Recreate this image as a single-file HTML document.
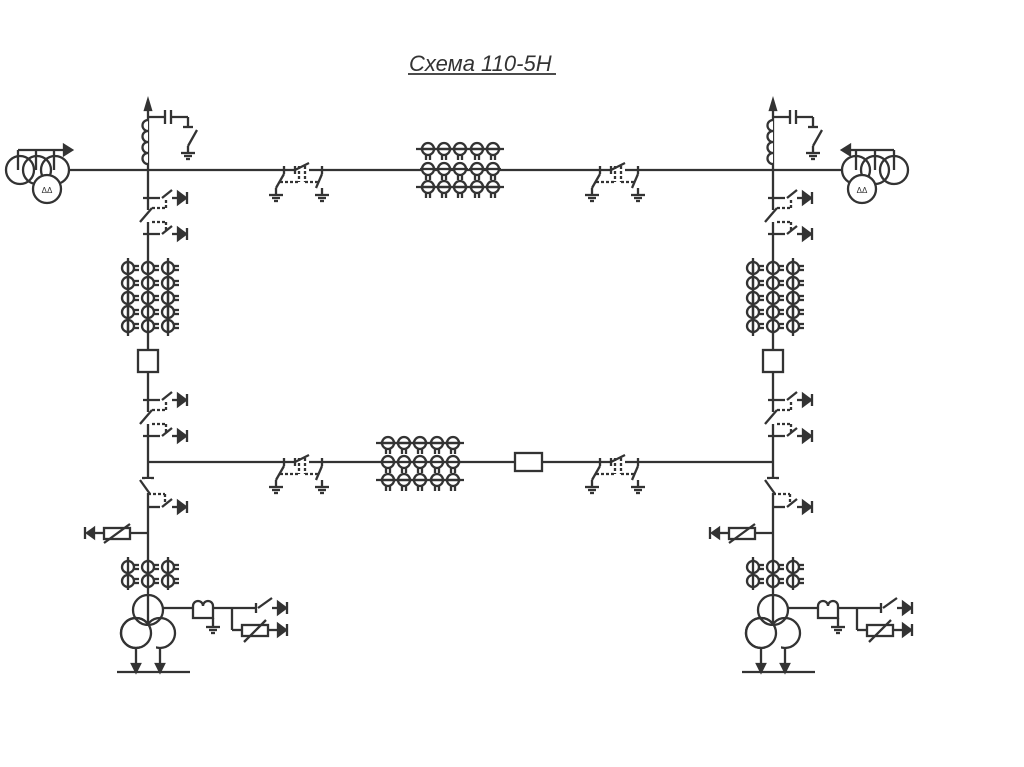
<!DOCTYPE html>
<html><head><meta charset="utf-8"><style>
html,body{margin:0;padding:0;background:#fff;}
svg{display:block}
</style></head><body>
<svg width="1024" height="767" viewBox="0 0 1024 767" xmlns="http://www.w3.org/2000/svg">
<defs>
<g id="gnd" stroke="#333" stroke-width="2.3" fill="none">
 <line x1="-7" y1="0" x2="7" y2="0"/><line x1="-4" y1="3" x2="4" y2="3"/><line x1="-2" y1="6" x2="2" y2="6"/>
</g>
<g id="garr"><polygon points="0,-6 8,0 0,6" fill="#333"/><line x1="9" y1="-6" x2="9" y2="6" stroke="#333" stroke-width="2.3"/></g>
<g id="cth" stroke="#333" stroke-width="2.3" fill="#fff">
 <circle cx="0" cy="0" r="6"/><line x1="-8" y1="0" x2="8" y2="0"/>
 <line x1="-2" y1="6" x2="-2" y2="11"/><line x1="2" y1="6" x2="2" y2="11"/>
</g>
<g id="ctv" stroke="#333" stroke-width="2.3" fill="#fff">
 <circle cx="0" cy="0" r="6"/><line x1="0" y1="-8" x2="0" y2="8"/>
 <line x1="6" y1="-2" x2="11" y2="-2"/><line x1="6" y1="2" x2="11" y2="2"/>
</g>
<g id="dsh" stroke="#333" stroke-width="2.3" fill="none">
 <rect x="-7" y="-3" width="14" height="6" fill="#fff" stroke="none"/>
 <line x1="-7" y1="0" x2="7" y2="-7"/><line x1="-7" y1="-4" x2="-7" y2="4"/>
 <line x1="-18" y1="-4" x2="-18" y2="4"/><line x1="-18" y1="4" x2="-26" y2="18"/>
 <line x1="20" y1="-4" x2="20" y2="4"/><line x1="20" y1="4" x2="14" y2="18"/>
 <line x1="-22" y1="12" x2="-3" y2="12" stroke-dasharray="3,2"/><line x1="-3" y1="-4" x2="-3" y2="12" stroke-dasharray="3,2"/>
 <line x1="3" y1="12" x2="16" y2="12" stroke-dasharray="3,2"/><line x1="3" y1="-4" x2="3" y2="12" stroke-dasharray="3,2"/>
 <line x1="-26" y1="18" x2="-26" y2="24"/><line x1="20" y1="18" x2="20" y2="24"/>
 <use href="#gnd" x="-26" y="25"/><use href="#gnd" x="20" y="25"/>
</g>
<g id="dsv" stroke="#333" stroke-width="2.3" fill="none">
 <rect x="-3" y="-6" width="6" height="12" fill="#fff" stroke="none"/>
 <line x1="-8" y1="6" x2="4" y2="-8"/>
 <line x1="-5" y1="-18" x2="12" y2="-18"/>
 <line x1="14" y1="-18" x2="24" y2="-26"/><line x1="24" y1="-18" x2="30" y2="-18"/>
 <line x1="-5" y1="18" x2="12" y2="18"/>
 <line x1="14" y1="18" x2="24" y2="10"/><line x1="24" y1="18" x2="30" y2="18"/>
 <line x1="4" y1="-8" x2="18" y2="-8" stroke-dasharray="3,2"/><line x1="18" y1="-8" x2="18" y2="-18" stroke-dasharray="3,2"/>
 <line x1="4" y1="6" x2="18" y2="6" stroke-dasharray="3,2"/><line x1="18" y1="6" x2="18" y2="14" stroke-dasharray="3,2"/>
 <use href="#garr" x="30" y="-18"/><use href="#garr" x="30" y="18"/>
</g>
<g id="col" stroke="#333" stroke-width="2.3" fill="none">
 <line x1="148" y1="108" x2="148" y2="660"/>
 <polygon points="148,100 145,110 151,110" fill="#333"/>
 <rect x="140" y="120" width="8" height="45" fill="#fff" stroke="none"/>
 <path d="M148,120 a5,5 0 0 0 0,11 a5,5 0 0 0 0,11 a5,5 0 0 0 0,11 a5,5 0 0 0 0,11"/>
 <line x1="148" y1="117" x2="165" y2="117"/><line x1="165" y1="110" x2="165" y2="124"/>
 <line x1="171" y1="110" x2="171" y2="124"/><line x1="171" y1="117" x2="188" y2="117"/>
 <line x1="188" y1="117" x2="188" y2="127"/><line x1="183" y1="127" x2="193" y2="127"/>
 <line x1="197" y1="130" x2="188" y2="146"/><line x1="188" y1="146" x2="188" y2="152"/>
 <use href="#gnd" x="188" y="153"/>
 <use href="#dsv" x="148" y="216"/>
 <use href="#ctv" x="128" y="268"/><use href="#ctv" x="148" y="268"/><use href="#ctv" x="168" y="268"/>
 <use href="#ctv" x="128" y="283"/><use href="#ctv" x="148" y="283"/><use href="#ctv" x="168" y="283"/>
 <use href="#ctv" x="128" y="298"/><use href="#ctv" x="148" y="298"/><use href="#ctv" x="168" y="298"/>
 <use href="#ctv" x="128" y="312"/><use href="#ctv" x="148" y="312"/><use href="#ctv" x="168" y="312"/>
 <use href="#ctv" x="128" y="326"/><use href="#ctv" x="148" y="326"/><use href="#ctv" x="168" y="326"/>
 <line x1="128" y1="258" x2="128" y2="336"/><line x1="168" y1="258" x2="168" y2="336"/>
 <rect x="138" y="350" width="20" height="22" fill="#fff"/>
 <use href="#dsv" x="148" y="418"/>
 <line x1="142" y1="478" x2="154" y2="478"/>
 <rect x="145" y="479" width="6" height="14" fill="#fff" stroke="none"/>
 <line x1="140" y1="480" x2="150" y2="494"/>
 <line x1="148" y1="507" x2="160" y2="507"/><line x1="148" y1="494" x2="165" y2="494" stroke-dasharray="3,2"/>
 <line x1="165" y1="494" x2="165" y2="503" stroke-dasharray="3,2"/>
 <line x1="162" y1="507" x2="172" y2="499"/><line x1="172" y1="507" x2="178" y2="507"/>
 <use href="#garr" x="178" y="507"/>
 <line x1="148" y1="533" x2="130" y2="533"/><rect x="104" y="528" width="26" height="11" fill="#fff"/>
 <line x1="104" y1="543" x2="130" y2="524"/><line x1="104" y1="533" x2="94" y2="533"/>
 <polygon points="94,528 87,533 94,538" fill="#333"/><line x1="85" y1="527" x2="85" y2="539"/>
 <line x1="128" y1="557" x2="128" y2="590"/><line x1="168" y1="557" x2="168" y2="590"/>
 <use href="#ctv" x="128" y="567"/><use href="#ctv" x="148" y="567"/><use href="#ctv" x="168" y="567"/>
 <use href="#ctv" x="128" y="581"/><use href="#ctv" x="148" y="581"/><use href="#ctv" x="168" y="581"/>
 <circle cx="148" cy="610" r="15" fill="none"/>
 <circle cx="136" cy="633" r="15" fill="none"/><circle cx="160" cy="633" r="15" fill="none"/>
 <rect x="140" y="626" width="16" height="40" fill="#fff" stroke="none"/>
 <circle cx="136" cy="633" r="15" fill="none"/>
 <line x1="136" y1="648" x2="136" y2="666"/><line x1="160" y1="648" x2="160" y2="666"/>
 <polygon points="132,664 136,672 140,664" fill="#333"/><polygon points="156,664 160,672 164,664" fill="#333"/>
 <line x1="117" y1="672" x2="190" y2="672"/>
 <line x1="163" y1="608" x2="232" y2="608"/>
 <path d="M193,618 L193,606 a5,5 0 0 1 10,0 a5,5 0 0 1 10,0 L213,618 Z" fill="#fff"/>
 <line x1="213" y1="618" x2="213" y2="626"/><use href="#gnd" x="213" y="627"/>
 <line x1="232" y1="608" x2="232" y2="630"/><line x1="232" y1="608" x2="256" y2="608"/>
 <line x1="256" y1="603" x2="256" y2="613"/><line x1="258" y1="608" x2="272" y2="598"/>
 <line x1="272" y1="608" x2="278" y2="608"/><use href="#garr" x="278" y="608"/>
 <line x1="232" y1="630" x2="242" y2="630"/><rect x="242" y="625" width="26" height="11" fill="#fff"/>
 <line x1="244" y1="642" x2="266" y2="620"/><line x1="268" y1="630" x2="278" y2="630"/><use href="#garr" x="278" y="630"/>
</g>
</defs>

<text x="409" y="71" font-family="Liberation Sans, sans-serif" font-style="italic" font-size="22" fill="#333">Схема 110-5Н</text>
<line x1="408" y1="74" x2="556" y2="74" stroke="#333" stroke-width="1.8"/>

<g stroke="#333" stroke-width="2.3" fill="none">
 <line x1="70" y1="170" x2="842" y2="170"/>
 <line x1="148" y1="462" x2="773" y2="462"/>
</g>

<use href="#col"/>
<use href="#col" transform="translate(625,0)"/>

<use href="#dsh" x="302" y="170"/><use href="#dsh" x="618" y="170"/>
<use href="#dsh" x="302" y="462"/><use href="#dsh" x="618" y="462"/>

<g>
 <use href="#cth" x="428" y="149"/><use href="#cth" x="444" y="149"/><use href="#cth" x="460" y="149"/><use href="#cth" x="477" y="149"/><use href="#cth" x="493" y="149"/>
 <use href="#cth" x="428" y="169"/><use href="#cth" x="444" y="169"/><use href="#cth" x="460" y="169"/><use href="#cth" x="477" y="169"/><use href="#cth" x="493" y="169"/>
 <use href="#cth" x="428" y="187"/><use href="#cth" x="444" y="187"/><use href="#cth" x="460" y="187"/><use href="#cth" x="477" y="187"/><use href="#cth" x="493" y="187"/>
 <line x1="416" y1="149" x2="504" y2="149" stroke="#333" stroke-width="2.3"/>
 <line x1="416" y1="187" x2="504" y2="187" stroke="#333" stroke-width="2.3"/>
</g>
<g>
 <use href="#cth" x="388" y="443"/><use href="#cth" x="404" y="443"/><use href="#cth" x="420" y="443"/><use href="#cth" x="437" y="443"/><use href="#cth" x="453" y="443"/>
 <use href="#cth" x="388" y="462"/><use href="#cth" x="404" y="462"/><use href="#cth" x="420" y="462"/><use href="#cth" x="437" y="462"/><use href="#cth" x="453" y="462"/>
 <use href="#cth" x="388" y="480"/><use href="#cth" x="404" y="480"/><use href="#cth" x="420" y="480"/><use href="#cth" x="437" y="480"/><use href="#cth" x="453" y="480"/>
 <line x1="376" y1="443" x2="464" y2="443" stroke="#333" stroke-width="2.3"/>
 <line x1="376" y1="480" x2="464" y2="480" stroke="#333" stroke-width="2.3"/>
</g>
<rect x="515" y="453" width="27" height="18" fill="#fff" stroke="#333" stroke-width="2.3"/>

<g stroke="#333" stroke-width="2.3" fill="none">
 <line x1="18" y1="170" x2="18" y2="150"/><line x1="36" y1="170" x2="36" y2="150"/><line x1="54" y1="170" x2="54" y2="150"/>
 <line x1="18" y1="150" x2="66" y2="150"/><polygon points="64,145 72,150 64,155" fill="#333"/>
 <circle cx="20" cy="170" r="14"/><circle cx="37" cy="170" r="14"/><circle cx="55" cy="170" r="14"/>
 <circle cx="47" cy="189" r="14" fill="#fff"/>
 <text x="47" y="193" font-family="Liberation Sans, sans-serif" font-size="8" fill="#333" stroke="none" text-anchor="middle">ΔΔ</text>
</g>
<g stroke="#333" stroke-width="2.3" fill="none">
 <line x1="856" y1="170" x2="856" y2="150"/><line x1="875" y1="170" x2="875" y2="150"/><line x1="894" y1="170" x2="894" y2="150"/>
 <line x1="848" y1="150" x2="894" y2="150"/><polygon points="850,145 842,150 850,155" fill="#333"/>
 <circle cx="856" cy="170" r="14"/><circle cx="875" cy="170" r="14"/><circle cx="894" cy="170" r="14"/>
 <circle cx="862" cy="189" r="14" fill="#fff"/>
 <text x="862" y="193" font-family="Liberation Sans, sans-serif" font-size="8" fill="#333" stroke="none" text-anchor="middle">ΔΔ</text>
</g>
</svg>
</body></html>
